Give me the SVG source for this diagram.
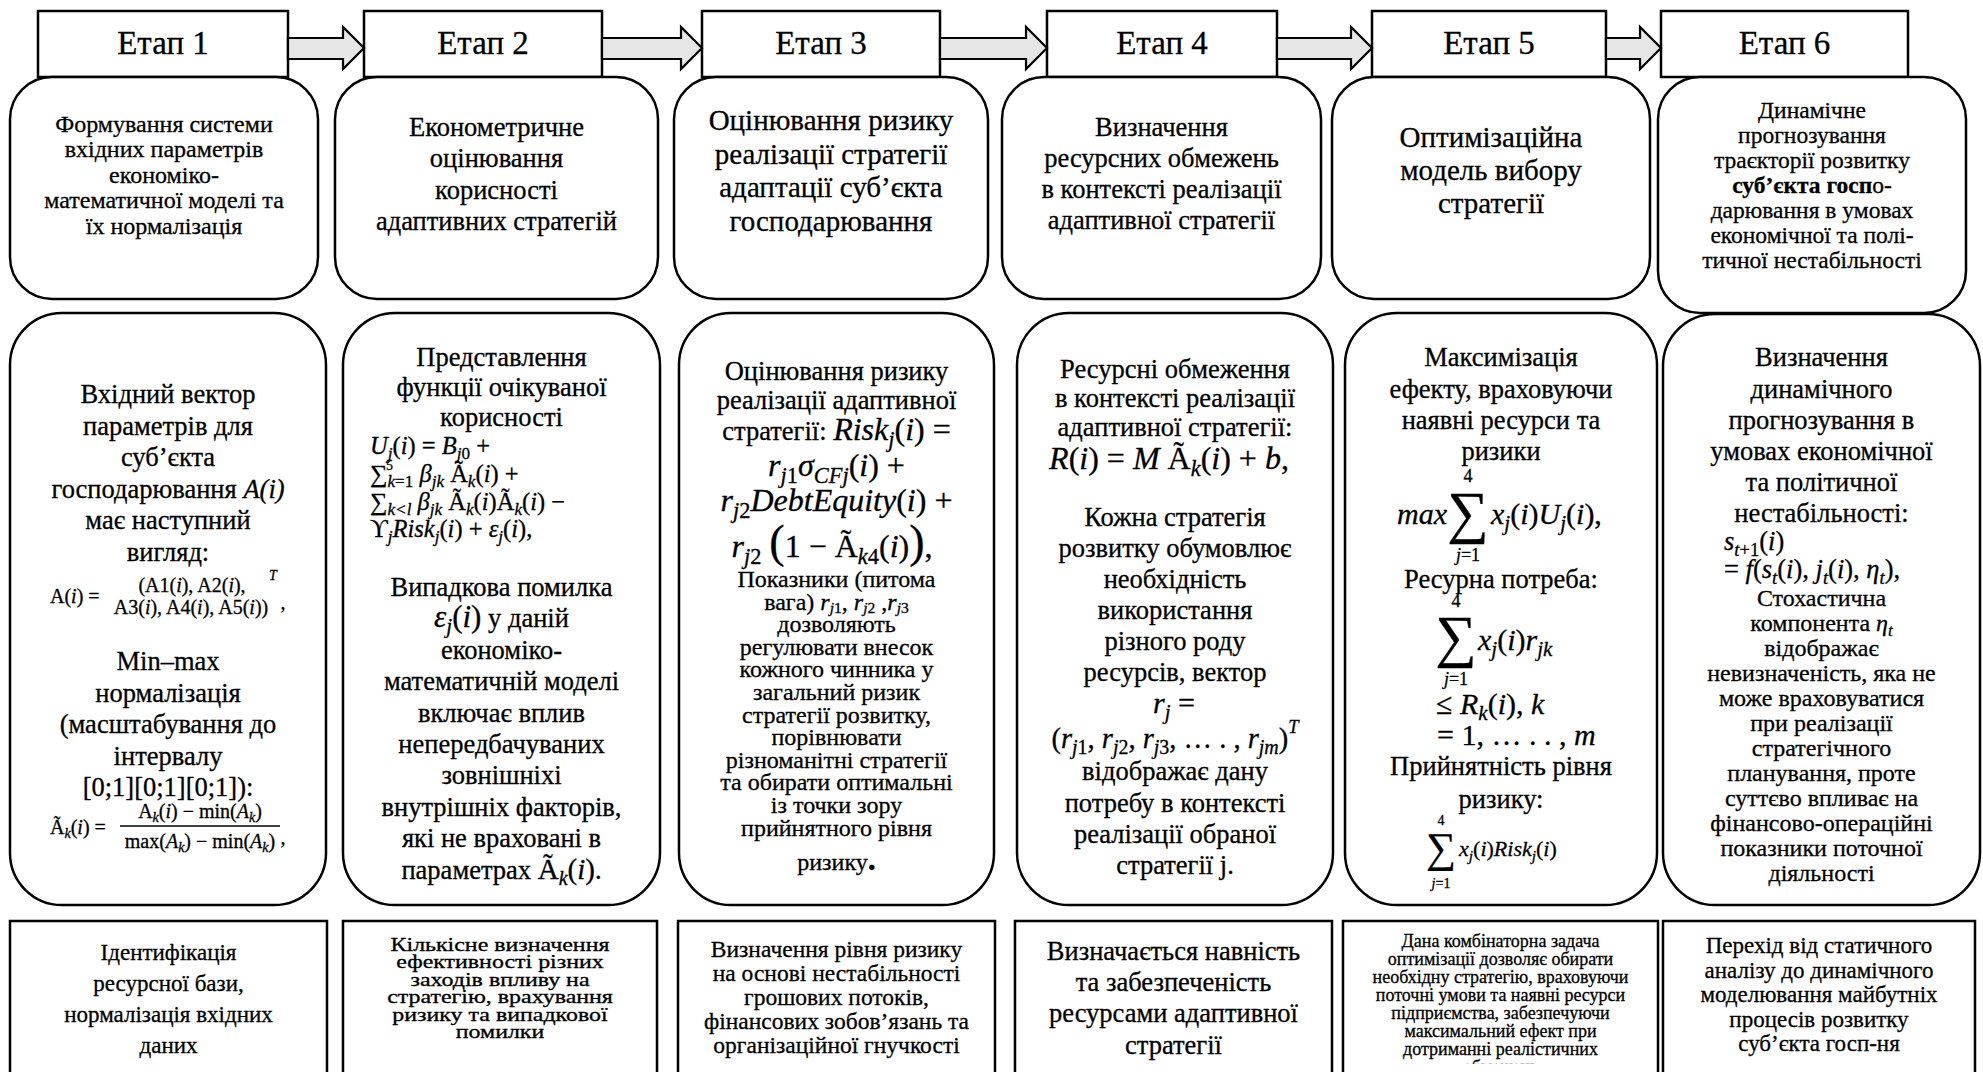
<svg xmlns="http://www.w3.org/2000/svg" width="1983" height="1072" viewBox="0 0 1983 1072">
<defs>
<style>
text{font-family:"Liberation Serif","Times New Roman",serif;fill:#000;stroke:#000;stroke-width:0.3px;text-anchor:middle}
.box{fill:#fff;stroke:#000;stroke-width:2.5}
.arr{fill:#e6e6e6;stroke:#000;stroke-width:2.2;stroke-linejoin:miter}
.st{text-anchor:start}
.h{font-size:33px}
.f14{font-size:14px}
.f18{font-size:18px}
.f20{font-size:20px}
.f22{font-size:22px}
.f23{font-size:23px}
.f24{font-size:24px}
.f26{font-size:26.5px}
.f29{font-size:29px}
.f30{font-size:30px}
.f32{font-size:32px}
.i{font-style:italic}
.b{font-weight:bold}
.s{font-size:70%;baseline-shift:-0.3em}
.p{font-size:65%;baseline-shift:0.8em}
</style>
<clipPath id="clipOpt"><rect x="1343" y="921" width="315" height="143"/></clipPath>
</defs>
<rect width="1983" height="1072" fill="#fff"/>

<!-- stage headers -->
<g id="stage1"><rect class="box" x="38" y="11" width="250" height="66"/><text class="h" x="163" y="54">Етап 1</text></g>
<g id="stage2"><rect class="box" x="364" y="11" width="238" height="66"/><text class="h" x="483" y="54">Етап 2</text></g>
<g id="stage3"><rect class="box" x="702" y="11" width="238" height="66"/><text class="h" x="821" y="54">Етап 3</text></g>
<g id="stage4"><rect class="box" x="1047" y="11" width="230" height="66"/><text class="h" x="1162" y="54">Етап 4</text></g>
<g id="stage5"><rect class="box" x="1372" y="11" width="234" height="66"/><text class="h" x="1489" y="54">Етап 5</text></g>
<g id="stage6"><rect class="box" x="1661" y="11" width="247" height="66"/><text class="h" x="1784.5" y="54">Етап 6</text></g>

<!-- arrows between stages -->
<g id="connectors">
<polygon class="arr" points="288,38 343,38 343,27 364,48 343,69 343,59 288,59"/>
<polygon class="arr" points="602,38 681,38 681,27 702,48 681,69 681,59 602,59"/>
<polygon class="arr" points="940,38 1026,38 1026,27 1047,48 1026,69 1026,59 940,59"/>
<polygon class="arr" points="1277,38 1351,38 1351,27 1372,48 1351,69 1351,59 1277,59"/>
<polygon class="arr" points="1606,38 1640,38 1640,27 1661,48 1640,69 1640,59 1606,59"/>
</g>

<!-- row 2: stage titles -->
<g id="title1"><rect class="box" x="10" y="77" width="308" height="222" rx="42"/>
<text class="f24"><tspan x="164" y="131.5">Формування системи</tspan><tspan x="164" y="157">вхідних параметрів</tspan><tspan x="164" y="182.5">економіко-</tspan><tspan x="164" y="208">математичної моделі та</tspan><tspan x="164" y="233.5">їх нормалізація</tspan></text></g>
<g id="title2"><rect class="box" x="335" y="77" width="323" height="222" rx="42"/>
<text class="f26"><tspan x="496.5" y="136">Економетричне</tspan><tspan x="496.5" y="167.3">оцінювання</tspan><tspan x="496.5" y="198.6">корисності</tspan><tspan x="496.5" y="230">адаптивних стратегій</tspan></text></g>
<g id="title3"><rect class="box" x="674" y="77" width="314" height="222" rx="42"/>
<text class="f29"><tspan x="831" y="130">Оцінювання ризику</tspan><tspan x="831" y="163.7">реалізації стратегії</tspan><tspan x="831" y="197.4">адаптації суб’єкта</tspan><tspan x="831" y="231">господарювання</tspan></text></g>
<g id="title4"><rect class="box" x="1002" y="77" width="319" height="222" rx="42"/>
<text class="f26"><tspan x="1161.5" y="136">Визначення</tspan><tspan x="1161.5" y="167">ресурсних обмежень</tspan><tspan x="1161.5" y="198">в контексті реалізації</tspan><tspan x="1161.5" y="229">адаптивної стратегії</tspan></text></g>
<g id="title5"><rect class="box" x="1332" y="77" width="318" height="222" rx="42"/>
<text class="f29"><tspan x="1491" y="147">Оптимізаційна</tspan><tspan x="1491" y="180">модель вибору</tspan><tspan x="1491" y="213">стратегії</tspan></text></g>
<g id="title6"><rect class="box" x="1658" y="77" width="308" height="236" rx="42"/>
<text style="font-size:23.5px"><tspan x="1812" y="118">Динамічне</tspan><tspan x="1812" y="143">прогнозування</tspan><tspan x="1812" y="168">траєкторії розвитку</tspan><tspan x="1812" y="193"><tspan class="b">суб’єкта госп</tspan>о-</tspan><tspan x="1812" y="218">дарювання в умовах</tspan><tspan x="1812" y="243">економічної та полі-</tspan><tspan x="1812" y="268">тичної нестабільності</tspan></text></g>

<!-- row 3: models -->
<g id="model1"><rect class="box" x="10" y="313" width="316" height="592" rx="52"/>
<text class="f26"><tspan x="168" y="403">Вхідний вектор</tspan><tspan x="168" y="434.6">параметрів для</tspan><tspan x="168" y="466.2">суб’єкта</tspan><tspan x="168" y="497.8">господарювання <tspan class="i">A(i)</tspan></tspan><tspan x="168" y="529.4">має наступний</tspan><tspan x="168" y="561">вигляд:</tspan></text>
<text class="f20 st" x="50" y="603">A(<tspan class="i">i</tspan>)  =</text>
<text class="f20" x="192" y="592">(A1(<tspan class="i">i</tspan>), A2(<tspan class="i">i</tspan>),</text>
<text class="f20" x="191" y="614">A3(<tspan class="i">i</tspan>), A4(<tspan class="i">i</tspan>), A5(<tspan class="i">i</tspan>))</text>
<text class="f14 i" x="273" y="580">T</text>
<text class="f20" x="283" y="609">,</text>
<text class="f26"><tspan x="168" y="670">Min–max</tspan><tspan x="168" y="701.6">нормалізація</tspan><tspan x="168" y="733.2">(масштабування до</tspan><tspan x="168" y="764.8">інтервалу</tspan><tspan x="168" y="796.4">[0;1][0;1][0;1]):</tspan></text>
<text class="f20 st" x="50" y="834">Ã<tspan class="s i">k</tspan>(<tspan class="i">i</tspan>) =</text>
<text class="f20" x="200" y="818">A<tspan class="s i">k</tspan>(<tspan class="i">i</tspan>) − min(<tspan class="i">A</tspan><tspan class="s i">k</tspan>)</text>
<line x1="120" y1="826" x2="280" y2="826" stroke="#000" stroke-width="1.5"/>
<text class="f20" x="200" y="848">max(<tspan class="i">A</tspan><tspan class="s i">k</tspan>) − min(<tspan class="i">A</tspan><tspan class="s i">k</tspan>)</text>
<text class="f20" x="283" y="844">,</text>
</g>

<g id="model2"><rect class="box" x="343" y="313" width="317" height="592" rx="52"/>
<text class="f26"><tspan x="501.5" y="366">Представлення</tspan><tspan x="501.5" y="396">функції очікуваної</tspan><tspan x="501.5" y="426">корисності</tspan></text>
<text style="font-size:24.5px" class="st" x="370" y="454"><tspan class="i">U</tspan><tspan class="s i">j</tspan>(<tspan class="i">i</tspan>) = <tspan class="i">B</tspan><tspan class="s"><tspan class="i">j</tspan>0</tspan> +</text>
<text style="font-size:24.5px" class="st" x="370" y="482">∑<tspan class="s i">k</tspan><tspan class="s">=1</tspan> <tspan class="i">β</tspan><tspan class="s i">jk</tspan> Ã<tspan class="s i">k</tspan>(<tspan class="i">i</tspan>) +</text>
<text class="f14 st" x="386" y="470">5</text>
<text style="font-size:24.5px" class="st" x="370" y="510">∑<tspan class="s i">k&lt;l</tspan> <tspan class="i">β</tspan><tspan class="s i">jk</tspan> Ã<tspan class="s i">k</tspan>(<tspan class="i">i</tspan>)Ã<tspan class="s i">k</tspan>(<tspan class="i">i</tspan>) −</text>
<text style="font-size:24.5px" class="st" x="370" y="537">ϒ<tspan class="s i">j</tspan><tspan class="i">Risk</tspan><tspan class="s i">j</tspan>(<tspan class="i">i</tspan>) + <tspan class="i">ε</tspan><tspan class="s i">j</tspan>(<tspan class="i">i</tspan>),</text>
<text class="f26"><tspan x="501.5" y="596">Випадкова помилка</tspan><tspan x="501.5" y="627.4"><tspan class="i" style="font-size:31px">ε</tspan><tspan class="s i" style="font-size:21px">j</tspan><tspan style="font-size:31px">(<tspan class="i">i</tspan>)</tspan> у даній</tspan><tspan x="501.5" y="658.8">економіко-</tspan><tspan x="501.5" y="690.2">математичній моделі</tspan><tspan x="501.5" y="721.6">включає вплив</tspan><tspan x="501.5" y="753">непередбачуваних</tspan><tspan x="501.5" y="784.4">зовнішніхі</tspan><tspan x="501.5" y="815.8">внутрішніх факторів,</tspan><tspan x="501.5" y="847.2">які не враховані в</tspan><tspan x="501.5" y="878.6">параметрах <tspan style="font-size:29px">Ã</tspan><tspan class="s i" style="font-size:20px">k</tspan><tspan style="font-size:29px">(<tspan class="i">i</tspan>)</tspan>.</tspan></text>
</g>

<g id="model3"><rect class="box" x="679" y="313" width="315" height="592" rx="52"/>
<text class="f26"><tspan x="836.5" y="380">Оцінювання ризику</tspan><tspan x="836.5" y="409">реалізації адаптивної</tspan><tspan x="836.5" y="440">стратегії: <tspan class="f32"><tspan class="i">Risk</tspan><tspan class="s i">j</tspan>(<tspan class="i">i</tspan>) =</tspan></tspan></text>
<text class="f32" x="836.5" y="476"><tspan class="i">r</tspan><tspan class="s"><tspan class="i">j</tspan>1</tspan><tspan class="i">σ</tspan><tspan class="s i">CFj</tspan>(<tspan class="i">i</tspan>) +</text>
<text class="f32" x="836.5" y="511"><tspan class="i">r</tspan><tspan class="s"><tspan class="i">j</tspan>2</tspan><tspan class="i">DebtEquity</tspan>(<tspan class="i">i</tspan>) +</text>
<text class="f32" x="832" y="557"><tspan class="i">r</tspan><tspan class="s"><tspan class="i">j</tspan>2</tspan> <tspan style="font-size:46px">(</tspan>1 − Ã<tspan class="s"><tspan class="i">k</tspan>4</tspan>(<tspan class="i">i</tspan>)<tspan style="font-size:46px">)</tspan>,</text>
<text class="f24"><tspan x="836.5" y="587">Показники (питома</tspan><tspan x="836.5" y="609.6">вага) <tspan class="i">r</tspan><tspan style="font-size:65%;baseline-shift:-0.2em"><tspan class="i">j</tspan>1</tspan>,  <tspan class="i">r</tspan><tspan style="font-size:65%;baseline-shift:-0.2em"><tspan class="i">j</tspan>2</tspan> ,<tspan class="i">r</tspan><tspan style="font-size:65%;baseline-shift:-0.2em"><tspan class="i">j</tspan>3</tspan></tspan><tspan x="836.5" y="632.2">дозволяють</tspan><tspan x="836.5" y="654.8">регулювати внесок</tspan><tspan x="836.5" y="677.4">кожного чинника у</tspan><tspan x="836.5" y="700">загальний ризик</tspan><tspan x="836.5" y="722.6">стратегії розвитку,</tspan><tspan x="836.5" y="745.2">порівнювати</tspan><tspan x="836.5" y="767.8">різноманітні стратегії</tspan><tspan x="836.5" y="790.4">та обирати оптимальні</tspan><tspan x="836.5" y="813">із точки зору</tspan><tspan x="836.5" y="835.6">прийнятного рівня</tspan><tspan x="836.5" y="870">ризику<tspan class="b f32">.</tspan></tspan></text>
</g>

<g id="model4"><rect class="box" x="1017" y="313" width="316" height="592" rx="52"/>
<text class="f26"><tspan x="1175" y="378">Ресурсні обмеження</tspan><tspan x="1175" y="407">в контексті реалізації</tspan><tspan x="1175" y="436">адаптивної стратегії:</tspan></text>
<text class="f32" x="1169" y="469"><tspan class="i">R</tspan>(<tspan class="i">i</tspan>) = <tspan class="i">M</tspan> Ã<tspan class="s i">k</tspan>(<tspan class="i">i</tspan>) + <tspan class="i">b</tspan>,</text>
<text class="f26"><tspan x="1175" y="526">Кожна стратегія</tspan><tspan x="1175" y="557">розвитку обумовлює</tspan><tspan x="1175" y="588">необхідність</tspan><tspan x="1175" y="619">використання</tspan><tspan x="1175" y="650">різного роду</tspan><tspan x="1175" y="681">ресурсів, вектор</tspan></text>
<text class="f30" x="1174" y="713"><tspan class="i">r</tspan><tspan class="s i">j</tspan> =</text>
<text style="font-size:28.5px" x="1175" y="748">(<tspan class="i">r</tspan><tspan class="s"><tspan class="i">j</tspan>1</tspan>, <tspan class="i">r</tspan><tspan class="s"><tspan class="i">j</tspan>2</tspan>, <tspan class="i">r</tspan><tspan class="s"><tspan class="i">j</tspan>3</tspan>, … . , <tspan class="i">r</tspan><tspan class="s i">jm</tspan>)<tspan class="p i">T</tspan></text>
<text class="f26"><tspan x="1175" y="780">відображає дану</tspan><tspan x="1175" y="811.5">потребу в контексті</tspan><tspan x="1175" y="842.6">реалізації обраної</tspan><tspan x="1175" y="873.7">стратегії j.</tspan></text>
</g>

<g id="model5"><rect class="box" x="1345" y="313" width="312" height="592" rx="52"/>
<text class="f26"><tspan x="1501" y="366">Максимізація</tspan><tspan x="1501" y="397.5">ефекту, враховуючи</tspan><tspan x="1501" y="429">наявні ресурси та</tspan><tspan x="1501" y="460">ризики</tspan></text>
<text class="f18" x="1468" y="482">4</text>
<text class="f30 i st" x="1397" y="524">max</text>
<text style="font-size:58px" x="1468" y="532">∑</text>
<text class="f30 st" x="1491" y="524"><tspan class="i">x</tspan><tspan class="s i">j</tspan>(<tspan class="i">i</tspan>)<tspan class="i">U</tspan><tspan class="s i">j</tspan>(<tspan class="i">i</tspan>),</text>
<text class="f18" x="1468" y="561"><tspan class="i">j</tspan>=1</text>
<text class="f26" x="1501" y="588">Ресурна потреба:</text>
<text class="f18" x="1456" y="607">4</text>
<text style="font-size:58px" x="1456" y="656">∑</text>
<text class="f30 st" x="1478" y="650"><tspan class="i">x</tspan><tspan class="s i">j</tspan>(<tspan class="i">i</tspan>)<tspan class="i">r</tspan><tspan class="s i">jk</tspan></text>
<text class="f18" x="1456" y="685"><tspan class="i">j</tspan>=1</text>
<text class="f30 st" x="1436" y="714">≤ <tspan class="i">R</tspan><tspan class="s i">k</tspan>(<tspan class="i">i</tspan>), <tspan class="i">k</tspan></text>
<text class="f30 st" x="1437" y="745">= 1, … . . , <tspan class="i">m</tspan></text>
<text class="f26"><tspan x="1501" y="775">Прийнятність рівня</tspan><tspan x="1501" y="808">ризику:</tspan></text>
<text class="f14" x="1441" y="825">4</text>
<text style="font-size:42px" x="1441" y="862">∑</text>
<text class="f22 st" x="1459" y="856"><tspan class="i">x</tspan><tspan class="s i">j</tspan>(<tspan class="i">i</tspan>)<tspan class="i">Risk</tspan><tspan class="s i">j</tspan>(<tspan class="i">i</tspan>)</text>
<text class="f14" x="1441" y="888"><tspan class="i">j</tspan>=1</text>
</g>

<g id="model6"><rect class="box" x="1663" y="314" width="317" height="591" rx="52"/>
<text class="f26"><tspan x="1821.5" y="366">Визначення</tspan><tspan x="1821.5" y="397.5">динамічного</tspan><tspan x="1821.5" y="429">прогнозування в</tspan><tspan x="1821.5" y="460">умовах економічної</tspan><tspan x="1821.5" y="491">та політичної</tspan><tspan x="1821.5" y="522">нестабільності:</tspan></text>
<text class="f26 st" x="1724" y="550"><tspan class="i">s</tspan><tspan class="s"><tspan class="i">t</tspan>+1</tspan>(<tspan class="i">i</tspan>)</text>
<text class="f26 st" x="1724" y="578">= <tspan class="i">f</tspan>(<tspan class="i">s</tspan><tspan class="s i">t</tspan>(<tspan class="i">i</tspan>), <tspan class="i">j</tspan><tspan class="s i">t</tspan>(<tspan class="i">i</tspan>), <tspan class="i">η</tspan><tspan class="s i">t</tspan>),</text>
<text class="f24"><tspan x="1821.5" y="606">Стохастична</tspan><tspan x="1821.5" y="631">компонента <tspan class="i">η</tspan><tspan class="s i">t</tspan></tspan><tspan x="1821.5" y="656">відображає</tspan><tspan x="1821.5" y="681">невизначеність, яка не</tspan><tspan x="1821.5" y="706">може враховуватися</tspan><tspan x="1821.5" y="731">при реалізації</tspan><tspan x="1821.5" y="756">стратегічного</tspan><tspan x="1821.5" y="781">планування, проте</tspan><tspan x="1821.5" y="806">суттєво впливає на</tspan><tspan x="1821.5" y="831">фінансово-операційні</tspan><tspan x="1821.5" y="856">показники поточної</tspan><tspan x="1821.5" y="881">діяльності</tspan></text>
</g>

<!-- row 4: results -->
<g id="result1"><rect class="box" x="10" y="921" width="317" height="170"/>
<text class="f23"><tspan x="168.5" y="960">Ідентифікація</tspan><tspan x="168.5" y="991">ресурсної бази,</tspan><tspan x="168.5" y="1022">нормалізація вхідних</tspan><tspan x="168.5" y="1053">даних</tspan></text></g>
<g id="result2"><rect class="box" x="343" y="921" width="314" height="170"/>
<text class="f18" transform="translate(500 0) scale(1.33 1) translate(-500 0)"><tspan x="500" y="951">Кількісне визначення</tspan><tspan x="500" y="968.5">ефективності різних</tspan><tspan x="500" y="986">заходів впливу на</tspan><tspan x="500" y="1003.5">стратегію, врахування</tspan><tspan x="500" y="1021">ризику та випадкової</tspan><tspan x="500" y="1038.5">помилки</tspan></text></g>
<g id="result3"><rect class="box" x="678" y="921" width="317" height="170"/>
<text style="font-size:23.5px"><tspan x="836.5" y="957">Визначення рівня ризику</tspan><tspan x="836.5" y="981">на основі нестабільності</tspan><tspan x="836.5" y="1005">грошових потоків,</tspan><tspan x="836.5" y="1029">фінансових зобов’язань та</tspan><tspan x="836.5" y="1053">організаційної гнучкості</tspan></text></g>
<g id="result4"><rect class="box" x="1015" y="921" width="317" height="170"/>
<text class="f26"><tspan x="1173.5" y="960">Визначається навність</tspan><tspan x="1173.5" y="991">та забезпеченість</tspan><tspan x="1173.5" y="1022">ресурсами адаптивної</tspan><tspan x="1173.5" y="1054">стратегії</tspan></text></g>
<g id="result5"><rect class="box" x="1343" y="921" width="315" height="170"/>
<text style="font-size:18px" clip-path="url(#clipOpt)"><tspan x="1500.5" y="947">Дана комбінаторна задача</tspan><tspan x="1500.5" y="965">оптимізації дозволяє обирати</tspan><tspan x="1500.5" y="983">необхідну стратегію, враховуючи</tspan><tspan x="1500.5" y="1001">поточні умови та наявні ресурси</tspan><tspan x="1500.5" y="1019">підприємства, забезпечуючи</tspan><tspan x="1500.5" y="1037">максимальний ефект при</tspan><tspan x="1500.5" y="1055">дотриманні реалістичних</tspan><tspan x="1500.5" y="1073">обмежень</tspan></text></g>
<g id="result6"><rect class="box" x="1663" y="921" width="312" height="170"/>
<text class="f23"><tspan x="1819" y="953">Перехід від статичного</tspan><tspan x="1819" y="977.5">аналізу до динамічного</tspan><tspan x="1819" y="1002">моделювання майбутніх</tspan><tspan x="1819" y="1026.5">процесів розвитку</tspan><tspan x="1819" y="1051">суб’єкта госп-ня</tspan></text></g>
</svg>
